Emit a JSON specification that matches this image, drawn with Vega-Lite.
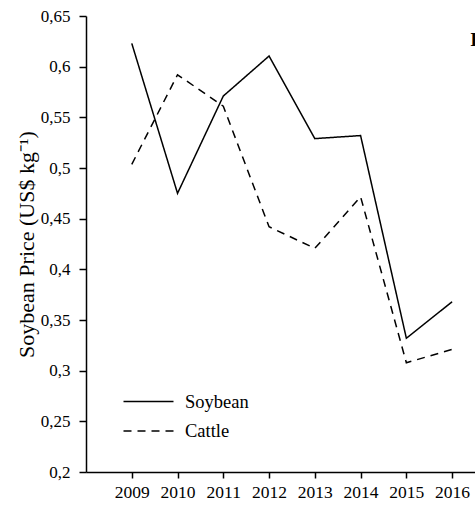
{
  "$schema": "https://vega.github.io/schema/vega-lite/v6.json",
  "width": 389,
  "height": 456,
  "autosize": {"type": "none"},
  "padding": {"left": 86, "top": 16, "right": 0, "bottom": 33},
  "background": "white",
  "config": {
    "view": {"stroke": null},
    "font": "Liberation Serif",
    "text": {"font": "Liberation Serif"},
    "axis": {"domainColor": "black", "tickColor": "black", "labelColor": "black", "titleColor": "black", "domainWidth": 1.5, "tickWidth": 1.5, "grid": false, "labelFont": "Liberation Serif", "titleFont": "Liberation Serif", "titleFontWeight": "normal"},
    "legend": {"labelFont": "Liberation Serif"}
  },
  "datasets": {
    "prices": [
      {"year": 2009, "series": "Soybean", "price": 0.623},
      {"year": 2010, "series": "Soybean", "price": 0.475},
      {"year": 2011, "series": "Soybean", "price": 0.571},
      {"year": 2012, "series": "Soybean", "price": 0.6105},
      {"year": 2013, "series": "Soybean", "price": 0.529},
      {"year": 2014, "series": "Soybean", "price": 0.532},
      {"year": 2015, "series": "Soybean", "price": 0.332},
      {"year": 2016, "series": "Soybean", "price": 0.368},
      {"year": 2009, "series": "Cattle", "price": 0.5036},
      {"year": 2010, "series": "Cattle", "price": 0.592},
      {"year": 2011, "series": "Cattle", "price": 0.561},
      {"year": 2012, "series": "Cattle", "price": 0.442},
      {"year": 2013, "series": "Cattle", "price": 0.4207},
      {"year": 2014, "series": "Cattle", "price": 0.4716},
      {"year": 2015, "series": "Cattle", "price": 0.3078},
      {"year": 2016, "series": "Cattle", "price": 0.321}
    ],
    "panel": [{"year": 2016.4, "price": 0.626, "label": "B"}]
  },
  "layer": [
    {
      "data": {"name": "prices"},
      "mark": {"type": "line", "color": "black", "strokeWidth": 1.5},
      "encoding": {
        "x": {
          "field": "year", "type": "quantitative",
          "scale": {"domain": [2008, 2016.5], "nice": false, "zero": false},
          "axis": {"values": [2009, 2010, 2011, 2012, 2013, 2014, 2015, 2016], "format": "d", "title": null, "labelFont": "Liberation Serif", "labelFontSize": 17.5, "tickSize": 6, "labelPadding": 5, "labelFlush": false, "labelOverlap": false}
        },
        "y": {
          "field": "price", "type": "quantitative",
          "scale": {"domain": [0.2, 0.65], "nice": false, "zero": false},
          "axis": {"values": [0.2, 0.25, 0.3, 0.35, 0.4, 0.45, 0.5, 0.55, 0.6, 0.65], "labelExpr": "replace(format(datum.value, '~g'), '.', ',')", "title": "Soybean Price (US$ kg⁻¹)", "titleFont": "Liberation Serif", "titleFontSize": 22, "titlePadding": 2, "labelFont": "Liberation Serif", "labelFontSize": 17, "tickSize": 7, "labelPadding": 9}
        },
        "strokeDash": {
          "field": "series", "type": "nominal",
          "scale": {"domain": ["Soybean", "Cattle"], "range": [[1, 0], [8, 6]]},
          "legend": {"title": null, "orient": "none", "legendX": 49, "legendY": 372, "symbolType": "M-2,0H2", "symbolSize": 625, "symbolStrokeWidth": 1.5, "symbolStrokeColor": "black", "symbolFillColor": "transparent", "labelFont": "Liberation Serif", "labelFontSize": 18.5, "labelColor": "black", "rowPadding": 6.5, "labelOffset": 23}
        }
      }
    },
    {
      "mark": {"type": "rule", "color": "black", "strokeWidth": 1.5},
      "encoding": {"y": {"datum": 0.65}}
    },
    {
      "data": {"name": "panel"},
      "mark": {"type": "text", "align": "left", "baseline": "middle", "fontSize": 19, "fontWeight": "bold", "font": "Liberation Serif", "color": "black", "clip": false},
      "encoding": {"x": {"field": "year", "type": "quantitative"}, "y": {"field": "price", "type": "quantitative"}, "text": {"field": "label"}}
    }
  ]
}
